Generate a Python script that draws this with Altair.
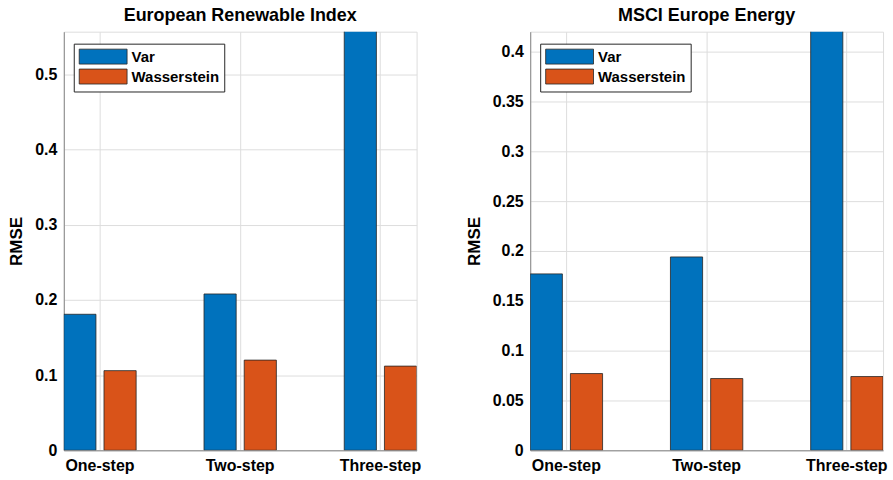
import altair as alt
import pandas as pd

# Forecast horizons and the two estimation methods
horizons = ["One-step", "Two-step", "Three-step"]
methods = ["Var", "Wasserstein"]

# RMSE per horizon, European Renewable Index
renewable_var = [0.181, 0.208, 0.60]
renewable_wass = [0.106, 0.120, 0.112]
renewable_ticks = [0, 0.1, 0.2, 0.3, 0.4, 0.5]
renewable_ylim = 0.557

# RMSE per horizon, MSCI Europe Energy
energy_var = [0.177, 0.194, 0.46]
energy_wass = [0.077, 0.072, 0.074]
energy_ticks = [0, 0.05, 0.1, 0.15, 0.2, 0.25, 0.3, 0.35, 0.4]
energy_ylim = 0.42

colors = ["#0072BD", "#D95319"]
FONT = "Liberation Sans"
INK = "#262626"

# wide rectangular legend swatch: 6.4 x 2 units, left edge at the symbol's left bound
SWATCH = "M-1,-1H5.4V1H-1Z"


def panel(title, var_vals, wass_vals, ylim, ticks):
    df = pd.DataFrame({
        "horizon": horizons * 2,
        "method": [methods[0]] * len(horizons) + [methods[1]] * len(horizons),
        "rmse": var_vals + wass_vals,
    })
    return (
        alt.Chart(df, title=alt.Title(title, fontSize=18, font=FONT, fontWeight="bold",
                                      color="black", offset=7))
        .mark_bar(clip=True, stroke=INK, strokeWidth=0.8)
        .encode(
            x=alt.X("horizon:N", sort=horizons,
                    scale=alt.Scale(paddingInner=0.484, paddingOuter=0),
                    axis=alt.Axis(title=None, labelAngle=0, bandPosition=0.5, grid=True,
                                  ticks=False, labelPadding=7, labelFontSize=16,
                                  labelFont=FONT, labelFontWeight="bold")),
            xOffset=alt.XOffset("method:N", sort=methods,
                                scale=alt.Scale(paddingInner=0.2, paddingOuter=0)),
            y=alt.Y("rmse:Q",
                    scale=alt.Scale(domain=[0, ylim], nice=False, zero=True),
                    axis=alt.Axis(title="RMSE", values=ticks, format="~g", ticks=False,
                                  labelPadding=7, labelFontSize=16, labelFont=FONT,
                                  labelFontWeight="bold", titleFontSize=17,
                                  titleFont=FONT, titleFontWeight="bold",
                                  titlePadding=9)),
            color=alt.Color("method:N", sort=methods,
                            scale=alt.Scale(domain=methods, range=colors),
                            legend=alt.Legend(
                                title=None, orient="none", legendX=10, legendY=12,
                                padding=5, strokeColor=INK, fillColor="white",
                                symbolType=SWATCH, symbolSize=225,
                                symbolStrokeColor=INK, symbolStrokeWidth=0.8,
                                symbolOpacity=1,
                                labelFont=FONT, labelFontSize=15, labelFontWeight="bold",
                                labelColor="black", rowPadding=0, labelOffset=37)),
        )
        .properties(width=354, height=420)
    )


left = panel("European Renewable Index", renewable_var, renewable_wass, renewable_ylim, renewable_ticks)
right = panel("MSCI Europe Energy", energy_var, energy_wass, energy_ylim, energy_ticks)

chart = (
    alt.hconcat(left, right, spacing=43)
    .resolve_scale(color="independent")
    .resolve_legend(color="independent")
    .properties(padding={"left": 7, "top": 5, "right": 5, "bottom": 5})
    .configure_view(stroke=INK, strokeWidth=1)
    .configure_axis(
        labelColor=INK, titleColor=INK, domainColor=INK, domainWidth=1,
        gridColor="#e3e3e3", gridWidth=1,
    )
    .configure(background="white")
)

chart.save("out.html", embed_options={"renderer": "svg", "actions": False})
